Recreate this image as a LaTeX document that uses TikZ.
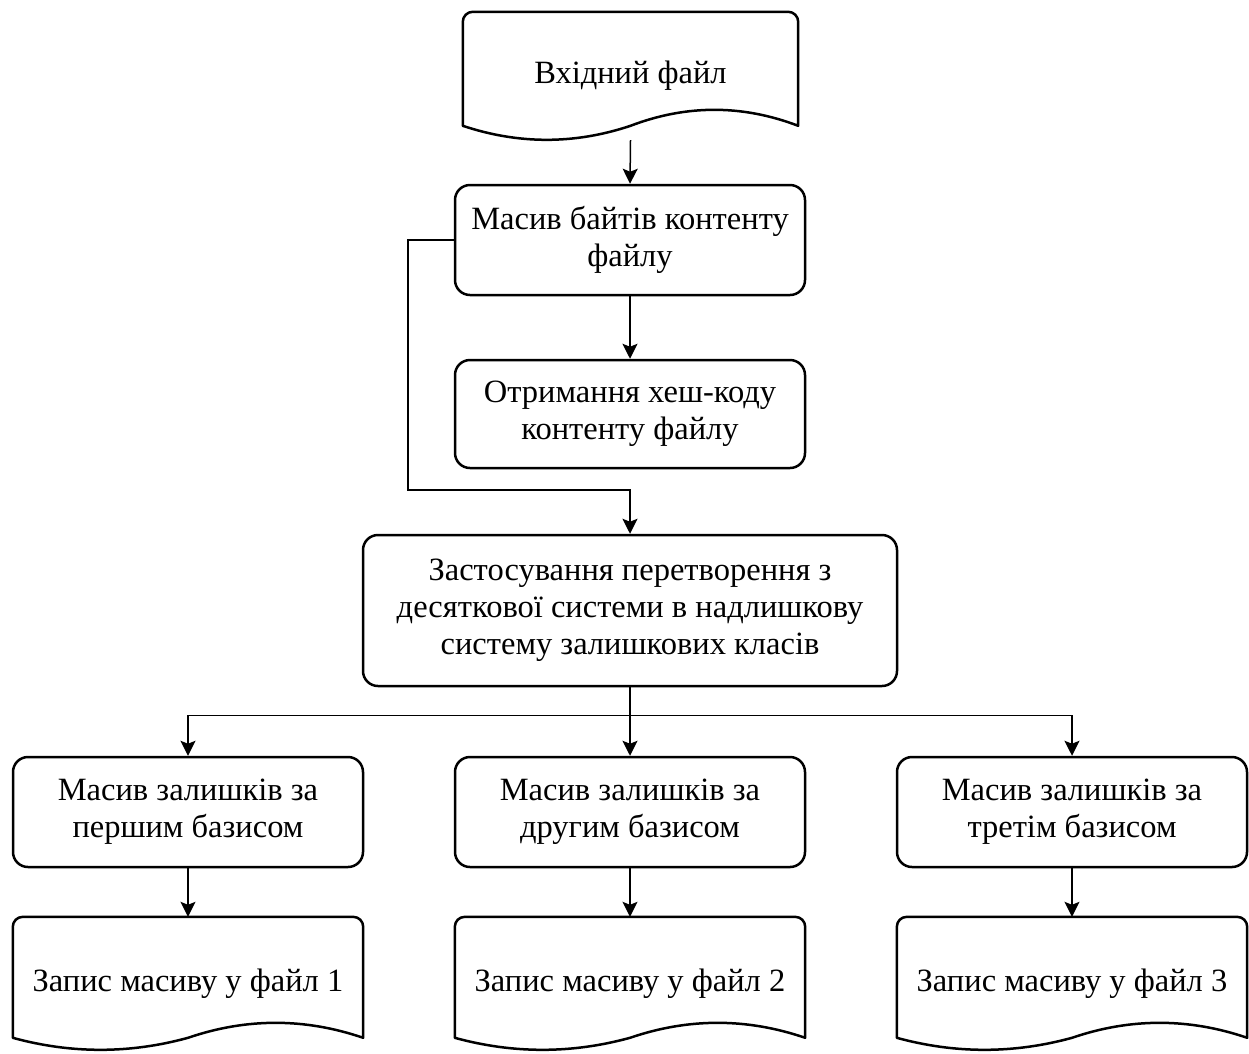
\documentclass[tikz,border=0pt]{standalone}
\usepackage{fontspec}
\setmainfont{Liberation Serif}
\usetikzlibrary{arrows.meta,calc}
\newcommand\docshape[4]{%
  \draw[docline] ($(#1.north west)+(0,#2)$)
    {[rounded corners=10pt] -- (#1.north west) -- (#1.north east)}
    -- ($(#1.north east)+(0,#2)$)
    .. controls ($(#1.north west)!0.8333!(#1.north east)+(0,#4)$) and ($(#1.north west)!0.6667!(#1.north east)+(0,#4)$)
    .. ($(#1.north west)!0.5!(#1.north east)+(0,#2)$)
    .. controls ($(#1.north west)!0.3333!(#1.north east)+(0,#3)$) and ($(#1.north west)!0.1667!(#1.north east)+(0,#3)$)
    .. ($(#1.north west)+(0,#2)$) -- cycle;}
\begin{document}
\begin{tikzpicture}[x=1pt,y=-1pt,
  txt/.style={font=\fontsize{32.5}{37}\selectfont, align=center, inner sep=0pt},
  box/.style={txt, draw, line width=2.5pt, rounded corners=15pt, minimum width=350pt, minimum height=110pt},
  doc/.style={txt, minimum width=350pt},
  docline/.style={line width=2.5pt, line join=round},
  conn/.style={line width=1.5pt, -{Stealth[length=15pt,width=15pt,inset=3pt]}}]
\useasboundingbox[fill=white] (0,0) rectangle (1249,1053);

\node[doc, minimum width=335pt, minimum height=128pt] (d0) at (630.5,76) {Вхідний файл};
\docshape{d0}{114}{132.67}{92.67}

\node[box] (b1) at (630,240) {Масив байтів контенту\\файлу};
\node[box, minimum height=108pt] (b2) at (630,414) {Отримання хеш-коду\\контенту файлу};
\node[box, minimum width=534pt, minimum height=151pt] (b3) at (630,610.5) {Застосування перетворення з\\десяткової системи в надлишкову\\систему залишкових класів};

\node[box] (b4) at (188,812) {Масив залишків за\\першим базисом};
\node[box] (b5) at (630,812) {Масив залишків за\\другим базисом};
\node[box] (b6) at (1072,812) {Масив залишків за\\третім базисом};

\node[doc, minimum height=133pt] (d1) at (188,983.5) {Запис масиву у файл 1};
\node[doc, minimum height=133pt] (d2) at (630,983.5) {Запис масиву у файл 2};
\node[doc, minimum height=133pt] (d3) at (1072,983.5) {Запис масиву у файл 3};
\docshape{d1}{121}{137}{101}
\docshape{d2}{121}{137}{101}
\docshape{d3}{121}{137}{101}

\draw[conn] (d0.south) -- (b1.north);
\draw[conn] (b1.south) -- (b2.north);
\draw[conn] (b1.west) -- ++(-46,0) |- ($(b3.north)+(0,-44)$) -- (b3.north);
\draw[conn] (b3.south) -- ++(0,28) -| (b4.north);
\draw[conn] (b3.south) -- (b5.north);
\draw[conn] (b3.south) -- ++(0,28) -| (b6.north);
\draw[conn] (b4.south) -- (d1.north);
\draw[conn] (b5.south) -- (d2.north);
\draw[conn] (b6.south) -- (d3.north);
\end{tikzpicture}
\end{document}
